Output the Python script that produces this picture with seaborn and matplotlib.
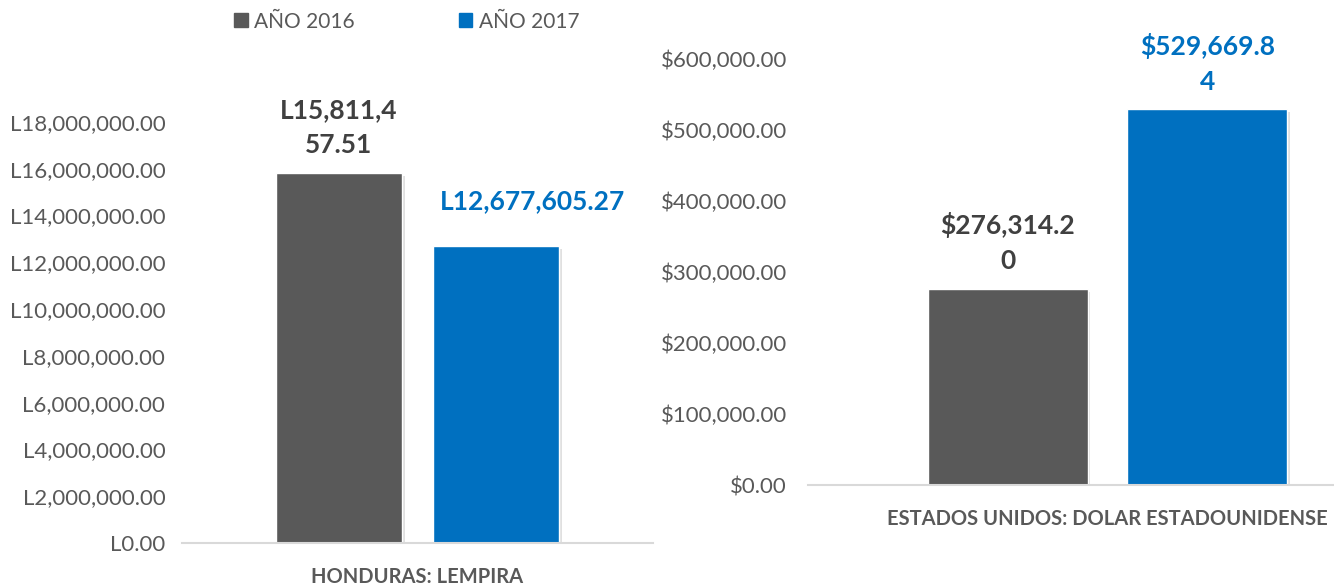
import pandas as pd
import matplotlib.pyplot as plt
import matplotlib.patheffects as pe
from matplotlib.patches import Patch
from matplotlib.ticker import FuncFormatter
import seaborn as sns

# =========================
# Datos
# =========================
anios = ["AÑO 2016", "AÑO 2017"]
moneda_hnl = "HONDURAS: LEMPIRA"
moneda_usd = "ESTADOS UNIDOS: DOLAR ESTADOUNIDENSE"
valores_hnl = [15811457.51, 12677605.27]
valores_usd = [276314.20, 529669.84]
etiquetas_hnl = ["L15,811,4\n57.51", "L12,677,605.27"]
etiquetas_usd = ["$276,314.2\n0", "$529,669.8\n4"]

colores = ["#595959", "#0070C0"]
colores_texto = ["#404040", "#0070C0"]
gris = "#595959"

df_hnl = pd.DataFrame({"moneda": [moneda_hnl] * 2, "anio": anios, "valor": valores_hnl})
df_usd = pd.DataFrame({"moneda": [moneda_usd] * 2, "anio": anios, "valor": valores_usd})

sns.set_style("white")
plt.rcParams["font.family"] = ["Lato", "DejaVu Sans"]

fig = plt.figure(figsize=(13.34, 5.84), dpi=100)
ax1 = fig.add_axes([0.1364, 0.0702, 0.3531, 0.7209])
ax2 = fig.add_axes([0.6057, 0.1695, 0.4490, 0.7295])


def dibujar(ax, df, etiquetas, ymax, paso, fmt, pad_y, desplaz_x=(0, 0)):
    sns.barplot(data=df, x="moneda", y="valor", hue="anio", hue_order=anios,
                palette=colores, width=0.8, gap=0.2, saturation=1,
                legend=False, ax=ax)
    for i, cont in enumerate(ax.containers):
        for barra in cont:
            barra.set_path_effects([
                pe.SimplePatchShadow(offset=(2, -2), shadow_rgbFace="#9a9a9a", alpha=0.3),
                pe.Normal()
            ])
            ax.annotate(etiquetas[i],
                        (barra.get_x() + barra.get_width() / 2, barra.get_height()),
                        xytext=(desplaz_x[i], 33), textcoords="offset points",
                        ha="center", va="center", multialignment="center",
                        fontsize=19, fontweight="bold", color=colores_texto[i],
                        linespacing=1.55, annotation_clip=False)
    ax.set_xlim(-0.6, 0.6)
    ax.set_ylim(0, ymax)
    ax.set_yticks(range(0, int(ymax) + 1, paso))
    ax.yaxis.set_major_formatter(FuncFormatter(fmt))
    ax.tick_params(axis="y", length=0, pad=pad_y, labelsize=16, labelcolor=gris)
    ax.tick_params(axis="x", length=0, pad=17, labelsize=14.5, labelcolor=gris)
    for lbl in ax.get_xticklabels():
        lbl.set_fontweight("bold")
    ax.set_xlabel("")
    ax.set_ylabel("")
    for s in ["top", "right", "left"]:
        ax.spines[s].set_visible(False)
    ax.spines["bottom"].set_color("#D9D9D9")
    ax.spines["bottom"].set_linewidth(1.5)


# la etiqueta azul de lempiras va corrida a la derecha, como en Excel
dibujar(ax1, df_hnl, etiquetas_hnl, 18000000, 2000000, lambda v, p: f"L{v:,.2f}", 12,
        desplaz_x=(0, 26))
dibujar(ax2, df_usd, etiquetas_usd, 600000, 100000, lambda v, p: f"${v:,.2f}", 15)

# =========================
# Leyenda
# =========================
manijas = [Patch(facecolor=c, edgecolor=c) for c in colores]
fig.legend(manijas, anios, loc="center", bbox_to_anchor=(0.305, 0.963),
           ncol=2, frameon=False, fontsize=15, labelcolor=gris,
           handlelength=0.65, handleheight=0.65, handletextpad=0.3,
           columnspacing=5.0)

plt.savefig("out.png", dpi=100)
